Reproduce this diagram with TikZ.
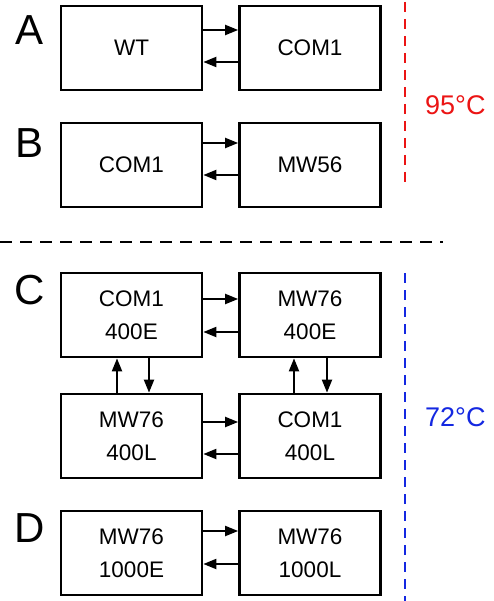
\documentclass[tikz,border=0pt]{standalone}
\usepackage{fontspec}
\setmainfont{Liberation Sans}
\usetikzlibrary{arrows.meta}
\definecolor{myred}{RGB}{235,20,20}
\definecolor{myblue}{RGB}{20,40,225}
\begin{document}
\begin{tikzpicture}[x=1pt,y=-1pt,
  box/.style={draw=black,line width=2.7pt,minimum width=141pt,minimum height=84pt,inner sep=0pt,align=center,font=\fontsize{22.5}{33}\selectfont},
  arr/.style={line width=2pt,-{Triangle[length=13pt,width=10pt]}},
  letter/.style={font=\fontsize{42}{42}\selectfont,inner sep=0pt},
  temp/.style={font=\fontsize{27}{27}\selectfont,inner sep=0pt,anchor=west}]
\useasboundingbox (0,0) rectangle (493,601);
% A
\node[letter] (la) at (30,30) {A};
\node[box] (a1) at (131.5,48) {WT};
\node[box] (a2) at (310,48) {COM1};
\draw[arr] (a1.east |- 0,30) -- (a2.west |- 0,30);
\draw[arr] (a2.west |- 0,62) -- (a1.east |- 0,62);
% B
\node[letter] (lb) at (30,143) {B};
\node[box] (b1) at (131.5,165) {COM1};
\node[box] (b2) at (310,165) {MW56};
\draw[arr] (b1.east |- 0,143) -- (b2.west |- 0,143);
\draw[arr] (b2.west |- 0,175) -- (b1.east |- 0,175);
% separator
\coordinate (s1) at (0,242);
\coordinate (s2) at (443,242);
\draw[line width=2.8pt,dash pattern=on 12pt off 8pt] (s1) -- (s2);
% C
\node[letter] (lc) at (30,290) {C};
\node[box] (c1) at (131.5,315) {COM1\\400E};
\node[box] (c2) at (310,315) {MW76\\400E};
\node[box] (c3) at (131.5,436) {MW76\\400L};
\node[box] (c4) at (310,436) {COM1\\400L};
\draw[arr] (c1.east |- 0,299) -- (c2.west |- 0,299);
\draw[arr] (c2.west |- 0,332) -- (c1.east |- 0,332);
\draw[arr] (c3.east |- 0,422) -- (c4.west |- 0,422);
\draw[arr] (c4.west |- 0,454) -- (c3.east |- 0,454);
\draw[arr] (c3.north -| 117,0) -- (c1.south -| 117,0);
\draw[arr] (c1.south -| 149,0) -- (c3.north -| 149,0);
\draw[arr] (c4.north -| 294,0) -- (c2.south -| 294,0);
\draw[arr] (c2.south -| 327,0) -- (c4.north -| 327,0);
% D
\node[letter] (ld) at (30,528) {D};
\node[box] (d1) at (131.5,553) {MW76\\1000E};
\node[box] (d2) at (310,553) {MW76\\1000L};
\draw[arr] (d1.east |- 0,531) -- (d2.west |- 0,531);
\draw[arr] (d2.west |- 0,564) -- (d1.east |- 0,564);
% temperature lines
\coordinate (r1) at (405,2);
\coordinate (r2) at (405,186);
\draw[myred,line width=2.6pt,dash pattern=on 10pt off 7pt] (r1) -- (r2);
\node[temp,text=myred] (t1) at (425,105) {95°C};
\coordinate (u1) at (405,273);
\coordinate (u2) at (405,601);
\draw[myblue,line width=2.6pt,dash pattern=on 10pt off 7pt] (u1) -- (u2);
\node[temp,text=myblue] (t2) at (425,417) {72°C};
\end{tikzpicture}
\end{document}
